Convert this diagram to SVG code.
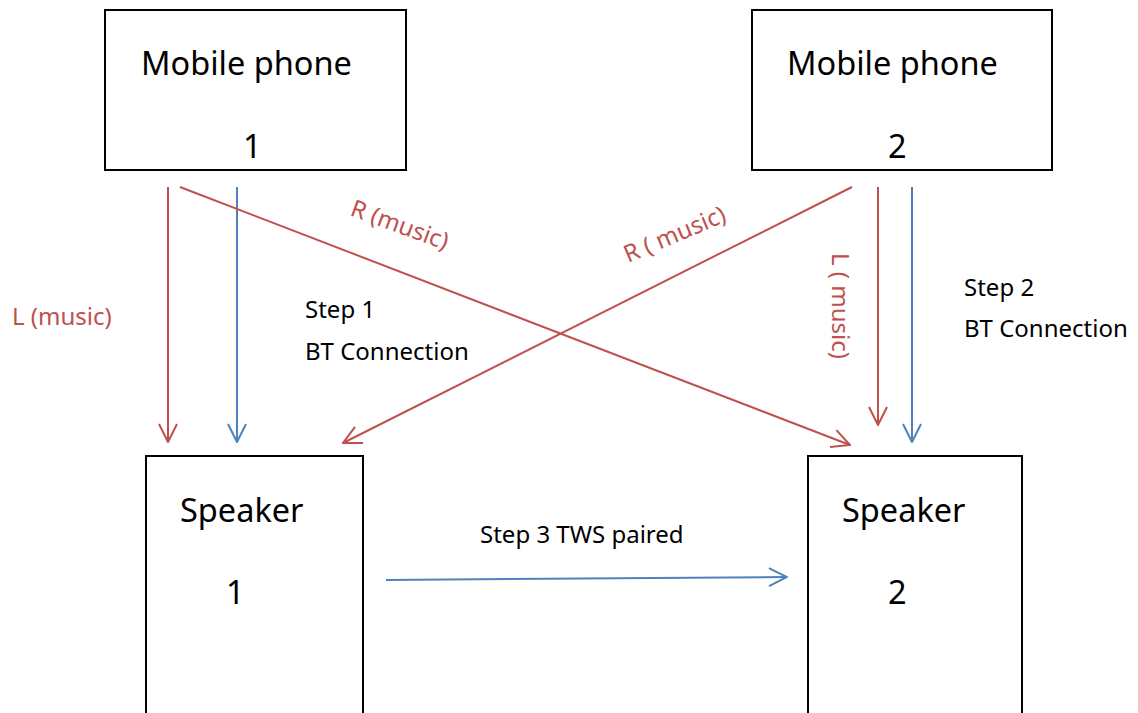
<svg xmlns="http://www.w3.org/2000/svg" width="1138" height="713" viewBox="0 0 1138 713">
<defs>
<style>
.box{fill:#fff;stroke:#000;stroke-width:2}
.big{font-family:"Noto Sans","Open Sans",sans-serif;font-size:32.5px;fill:#000}
.lbl{font-family:"Noto Sans","Open Sans",sans-serif;font-size:24px;fill:#000}
.rl{font-family:"Noto Sans","Open Sans",sans-serif;font-size:24px;fill:#C0504D}
.red{stroke:#C0504D;stroke-width:2;fill:none}
.blue{stroke:#4F81BD;stroke-width:2;fill:none}
</style>
<marker id="ar" viewBox="0 0 20 20" refX="19" refY="10" markerWidth="20" markerHeight="20" markerUnits="userSpaceOnUse" orient="auto">
<path d="M1,1 L19,10 L1,19" fill="none" stroke="#C0504D" stroke-width="2"/>
</marker>
<marker id="ab" viewBox="0 0 20 20" refX="19" refY="10" markerWidth="20" markerHeight="20" markerUnits="userSpaceOnUse" orient="auto">
<path d="M1,1 L19,10 L1,19" fill="none" stroke="#4F81BD" stroke-width="2"/>
</marker>
</defs>
<rect width="1138" height="713" fill="#fff"/>
<g id="phone1">
<rect class="box" x="105" y="10" width="301" height="160"/>
<text class="big" x="141" y="75">Mobile phone</text>
<text class="big" x="243" y="158">1</text>
</g>
<g id="phone2">
<rect class="box" x="752" y="10" width="300" height="160"/>
<text class="big" x="787" y="75">Mobile phone</text>
<text class="big" x="888" y="158">2</text>
</g>
<g id="speaker1">
<rect class="box" x="146" y="456" width="217" height="270"/>
<text class="big" x="180" y="522">Speaker</text>
<text class="big" x="226" y="604">1</text>
</g>
<g id="speaker2">
<rect class="box" x="808" y="456" width="214" height="270"/>
<text class="big" x="842" y="522">Speaker</text>
<text class="big" x="888" y="604">2</text>
</g>
<g id="connectors">
<line class="red" x1="168" y1="187" x2="168" y2="442" marker-end="url(#ar)"/>
<line class="blue" x1="237" y1="187" x2="237" y2="442" marker-end="url(#ab)"/>
<line class="red" x1="180" y1="187" x2="850" y2="445" marker-end="url(#ar)"/>
<line class="red" x1="852" y1="187" x2="343" y2="443" marker-end="url(#ar)"/>
<line class="red" x1="878" y1="187" x2="878" y2="425" marker-end="url(#ar)"/>
<line class="blue" x1="912" y1="187" x2="912" y2="442" marker-end="url(#ab)"/>
<line class="blue" x1="386" y1="580" x2="787" y2="577" marker-end="url(#ab)"/>
</g>
<g id="labels">
<text class="rl" x="12" y="325">L (music)</text>
<text class="rl" transform="translate(349,215) rotate(20)">R (music)</text>
<text class="rl" transform="translate(628,263) rotate(-23)">R ( music)</text>
<text class="rl" transform="translate(832,253) rotate(90)">L ( music)</text>
<text class="lbl" x="305" y="318">Step 1</text>
<text class="lbl" x="305" y="360">BT Connection</text>
<text class="lbl" x="964" y="296">Step 2</text>
<text class="lbl" x="964" y="337">BT Connection</text>
<text class="lbl" x="480" y="543">Step 3 TWS paired</text>
</g>
</svg>
